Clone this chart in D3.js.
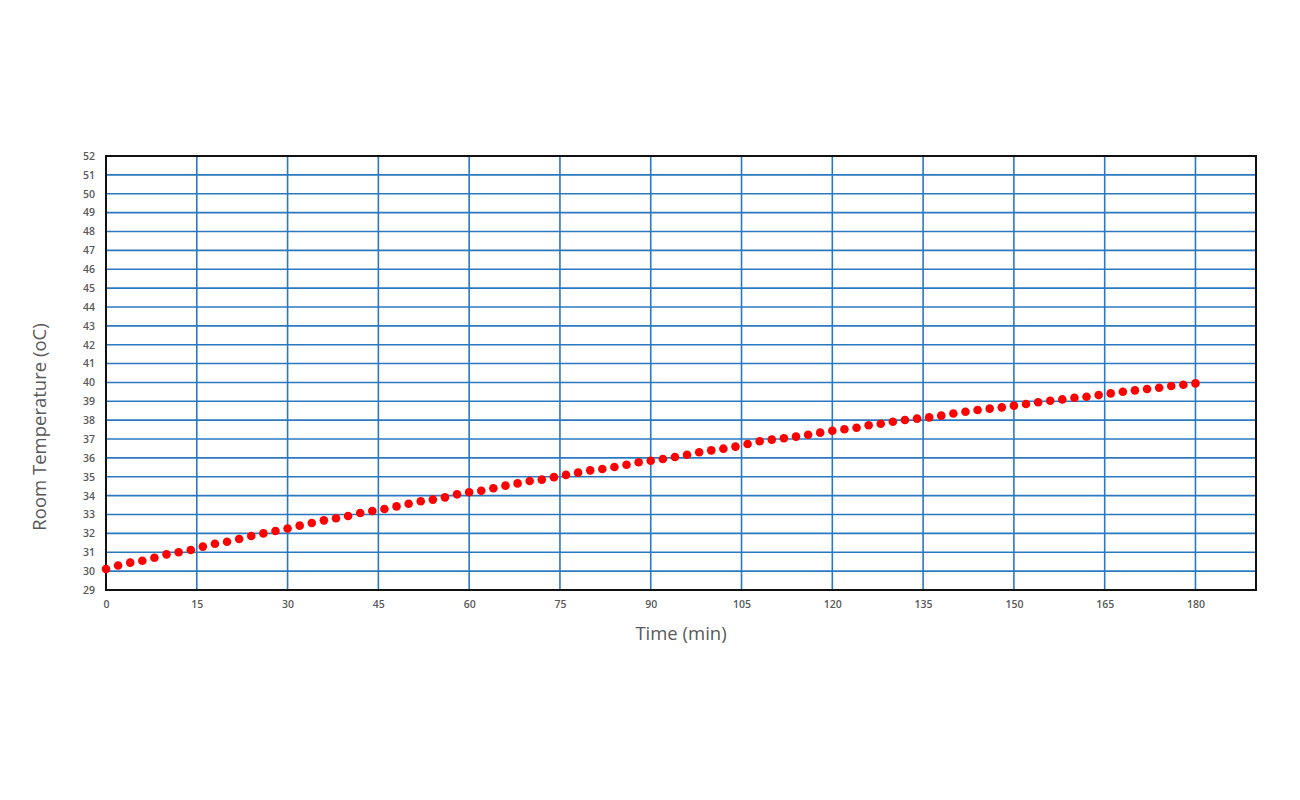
<!DOCTYPE html>
<html><head><meta charset="utf-8">
<script src="https://cdn.jsdelivr.net/npm/d3@7"></script>
<style>body{margin:0;background:#fff}svg{display:block}</style>
</head><body>
<svg id="c" width="1300" height="800"></svg>
<script>
const times = d3.range(0, 181, 2);
const temperatures = [30.11,30.3,30.45,30.55,30.71,30.89,31.0,31.12,31.3,31.45,31.56,31.7,31.86,32.0,32.13,32.26,32.41,32.55,32.69,32.8,32.92,33.08,33.19,33.29,33.43,33.57,33.7,33.79,33.91,34.07,34.18,34.26,34.39,34.53,34.65,34.78,34.85,34.98,35.1,35.22,35.34,35.41,35.52,35.64,35.77,35.85,35.94,36.05,36.17,36.3,36.4,36.49,36.6,36.74,36.88,36.97,37.04,37.13,37.23,37.34,37.44,37.52,37.6,37.73,37.81,37.92,38.01,38.08,38.15,38.24,38.35,38.45,38.54,38.61,38.68,38.77,38.86,38.95,39.03,39.1,39.19,39.24,39.33,39.42,39.51,39.58,39.65,39.72,39.81,39.88,39.95];
const xTicks = [0,15,30,45,60,75,90,105,120,135,150,165,180];
const yTicks = d3.range(29, 53, 1);
const xTitle = "Time (min)";
const yTitle = "Room Temperature (oC)";

const svg = d3.select("#c");
const L = 106, R = 1256, T = 156, B = 590;
const x = d3.scaleLinear().domain([0, 190]).range([L, R]);
const y = d3.scaleLinear().domain([29, 52]).range([B, T]);
const grid = "#2a78c0";
const font = "'Open Sans', 'Liberation Sans', sans-serif";

// horizontal grid
svg.append("g").selectAll("line").data(yTicks.filter(v => v > 29 && v < 52)).join("line")
  .attr("x1", L).attr("x2", R).attr("y1", d => y(d)).attr("y2", d => y(d))
  .attr("stroke", grid).attr("stroke-width", 1.6);
// vertical grid
svg.append("g").selectAll("line").data(xTicks.filter(v => v > 0)).join("line")
  .attr("y1", T).attr("y2", B).attr("x1", d => x(d)).attr("x2", d => x(d))
  .attr("stroke", grid).attr("stroke-width", 1.6);

// frame
svg.append("rect").attr("x", L).attr("y", T).attr("width", R - L).attr("height", B - T)
  .attr("fill", "none").attr("stroke", "#111").attr("stroke-width", 2);

const xAxis = svg.append("g").attr("transform", `translate(0,${B})`)
  .call(d3.axisBottom(x).tickValues(xTicks).tickSize(0).tickPadding(11));
xAxis.select(".domain").remove();
xAxis.selectAll("text").attr("fill", "#595959").style("font-family", font)
  .style("font-size", "10.5px").style("font-weight", "600");

const yAxis = svg.append("g").attr("transform", `translate(${L},0)`)
  .call(d3.axisLeft(y).tickValues(yTicks).tickSize(0).tickPadding(11));
yAxis.select(".domain").remove();
yAxis.selectAll("text").attr("fill", "#595959").style("font-family", font)
  .style("font-size", "10.5px").style("font-weight", "600");

// points
svg.append("g").selectAll("circle").data(times.map((t, i) => [t, temperatures[i]])).join("circle")
  .attr("cx", d => x(d[0])).attr("cy", d => y(d[1])).attr("r", 4.3).attr("fill", "#ff0000");

// titles
svg.append("text").attr("x", 681).attr("y", 640).attr("text-anchor", "middle")
  .attr("fill", "#595959").style("font-family", font).style("font-size", "18.5px").text(xTitle);
svg.append("text").attr("transform", `translate(46,427) rotate(-90)`)
  .attr("text-anchor", "middle").attr("fill", "#595959").style("font-family", font)
  .style("font-size", "18.5px").text(yTitle);
</script>
</body></html>
